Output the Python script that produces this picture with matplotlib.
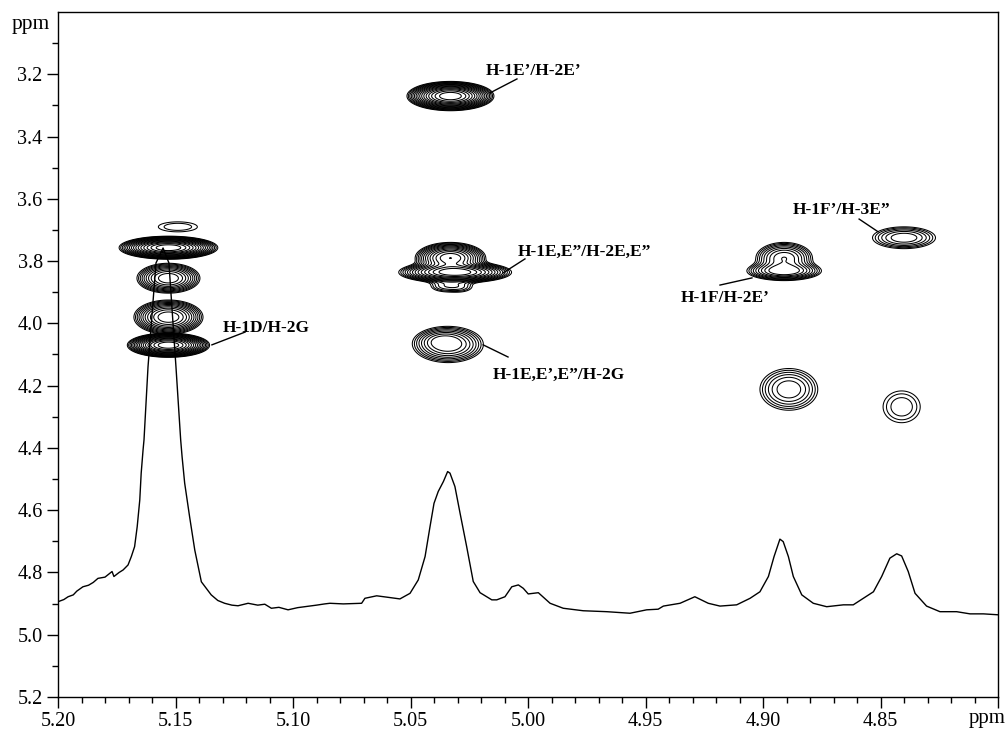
import matplotlib
matplotlib.use("Agg")
import matplotlib.pyplot as plt
from matplotlib.ticker import MultipleLocator, FixedLocator, FixedFormatter
import numpy as np

plt.rcParams['font.family'] = ['Liberation Serif', 'DejaVu Serif']

# 1D projection trace (ppm, ppm)
spec_x = [5.2000, 5.1975, 5.1957, 5.1935, 5.1920, 5.1894, 5.1870, 5.1850, 5.1830, 5.1800,
          5.1780, 5.1770, 5.1762, 5.1740, 5.1723, 5.1702, 5.1688, 5.1674, 5.1663, 5.1652,
          5.1646, 5.1638, 5.1634, 5.1617, 5.1583, 5.1553, 5.1528, 5.1498, 5.1478, 5.1472,
          5.1461, 5.1440, 5.1418, 5.1390, 5.1348, 5.1320, 5.1291, 5.1260, 5.1234, 5.1191,
          5.1150, 5.1120, 5.1092, 5.1060, 5.1021, 5.0980, 5.0950, 5.0900, 5.0865, 5.0843,
          5.0786, 5.0708, 5.0694, 5.0644, 5.0594, 5.0545, 5.0502, 5.0467, 5.0438, 5.0417,
          5.0400, 5.0382, 5.0360, 5.0342, 5.0332, 5.0311, 5.0289, 5.0261, 5.0233, 5.0204,
          5.0154, 5.0133, 5.0098, 5.0069, 5.0041, 5.0020, 4.9999, 4.9956, 4.9906, 4.9850,
          4.9765, 4.9665, 4.9566, 4.9495, 4.9446, 4.9424, 4.9353, 4.9290, 4.9233, 4.9183,
          4.9112, 4.9055, 4.9013, 4.8977, 4.8953, 4.8928, 4.8914, 4.8892, 4.8871, 4.8835,
          4.8786, 4.8729, 4.8658, 4.8616, 4.8573, 4.8530, 4.8495, 4.8460, 4.8431, 4.8410,
          4.8382, 4.8353, 4.8304, 4.8247, 4.8176, 4.8119, 4.8062, 4.7999]
spec_y = [4.894, 4.887, 4.878, 4.872, 4.860, 4.846, 4.841, 4.832, 4.819, 4.815,
          4.803, 4.797, 4.813, 4.800, 4.792, 4.776, 4.749, 4.717, 4.653, 4.567,
          4.481, 4.406, 4.374, 4.140, 3.806, 3.758, 3.806, 4.140, 4.374, 4.428,
          4.513, 4.621, 4.728, 4.830, 4.872, 4.890, 4.899, 4.905, 4.907, 4.899,
          4.905, 4.902, 4.915, 4.912, 4.920, 4.913, 4.910, 4.905, 4.901, 4.899,
          4.901, 4.899, 4.883, 4.875, 4.880, 4.885, 4.867, 4.824, 4.749, 4.653,
          4.578, 4.540, 4.508, 4.476, 4.481, 4.524, 4.610, 4.717, 4.829, 4.865,
          4.888, 4.888, 4.878, 4.846, 4.840, 4.851, 4.869, 4.865, 4.899, 4.915,
          4.923, 4.926, 4.931, 4.920, 4.918, 4.908, 4.899, 4.878, 4.899, 4.908,
          4.904, 4.883, 4.862, 4.813, 4.749, 4.693, 4.701, 4.749, 4.813, 4.872,
          4.899, 4.910, 4.904, 4.904, 4.883, 4.862, 4.813, 4.754, 4.740, 4.747,
          4.797, 4.867, 4.908, 4.926, 4.926, 4.933, 4.933, 4.936]

# cross peaks: group, F2 shift, F1 shift, half width, half height, number of contour levels
peak_group = [0, 1, 2, 3, 4, 5, 6, 6, 6, 6, 7, 7, 8, 8, 9, 10, 11]
peak_x = [5.149, 5.153, 5.153, 5.153, 5.153, 5.033, 5.031, 5.033, 5.036, 5.029,
          5.034, 5.037, 4.891, 4.891, 4.840, 4.889, 4.841]
peak_y = [3.690, 3.757, 3.855, 3.980, 4.070, 3.270, 3.836, 3.790, 3.880, 3.882,
          4.068, 4.055, 3.832, 3.790, 3.725, 4.212, 4.268]
peak_hx = [0.0083, 0.021, 0.0134, 0.0147, 0.0175, 0.0185, 0.024, 0.015, 0.005, 0.005,
           0.015, 0.006, 0.0157, 0.012, 0.0134, 0.0123, 0.0079]
peak_hy = [0.016, 0.037, 0.048, 0.055, 0.039, 0.047, 0.035, 0.050, 0.016, 0.016,
           0.058, 0.020, 0.030, 0.050, 0.035, 0.067, 0.051]
peak_n = [2, 16, 10, 11, 16, 16, 14, 12, 3, 3, 8, 3, 9, 8, 6, 6, 3]

labels = ['H-1E\u2019/H-2E\u2019', 'H-1E,E\u201d/H-2E,E\u201d', 'H-1E,E\u2019,E\u201d/H-2G',
          'H-1D/H-2G', 'H-1F\u2019/H-3E\u201d', 'H-1F/H-2E\u2019']
label_xy = [(5.0179, 3.189), (5.0043, 3.771), (5.0149, 4.166),
            (5.1298, 4.015), (4.8872, 3.636), (4.9349, 3.918)]
leader_from = [(5.0047, 3.215), (5.0013, 3.793), (5.0191, 4.069),
               (5.1204, 4.028), (4.8591, 3.665), (4.9183, 3.877)]
leader_to = [(5.0162, 3.260), (5.0106, 3.838), (5.0085, 4.108),
             (5.1345, 4.069), (4.8510, 3.706), (4.9047, 3.854)]

xticks = [5.20, 5.15, 5.10, 5.05, 5.00, 4.95, 4.90, 4.85, 4.80]
xticklabels = ['5.20', '5.15', '5.10', '5.05', '5.00', '4.95', '4.90', '4.85', '']
yticks = [3.2, 3.4, 3.6, 3.8, 4.0, 4.2, 4.4, 4.6, 4.8, 5.0, 5.2]

fig = plt.figure(figsize=(10.07, 7.32), dpi=100)
ax = fig.add_axes([58 / 1007, 35 / 732, 940 / 1007, 685 / 732])

f = 1.3
gx = np.linspace(4.80, 5.20, 1400)
gy = np.linspace(3.0, 5.2, 1100)
X, Y = np.meshgrid(gx, gy)
for g in sorted(set(peak_group)):
    Z = np.zeros_like(X)
    nmax = 0
    for i in range(len(peak_group)):
        if peak_group[i] != g:
            continue
        A = f ** peak_n[i]
        s = np.sqrt(2 * np.log(A))
        sx = peak_hx[i] / s
        sy = peak_hy[i] / s
        Z += A * np.exp(-0.5 * ((X - peak_x[i]) / sx) ** 2 - 0.5 * ((Y - peak_y[i]) / sy) ** 2)
        nmax = max(nmax, peak_n[i])
    levels = f ** np.arange(0, nmax)
    ax.contour(X, Y, Z, levels=levels, colors='black', linewidths=0.75)

ax.plot(spec_x, spec_y, color='black', lw=1.0)

for i in range(len(labels)):
    ax.text(label_xy[i][0], label_xy[i][1], labels[i], fontsize=12.5, fontweight='bold',
            ha='left', va='center')
    ax.plot([leader_from[i][0], leader_to[i][0]], [leader_from[i][1], leader_to[i][1]],
            color='black', lw=1.0)

ax.set_xlim(5.20, 4.80)
ax.set_ylim(5.2, 3.0)
ax.xaxis.set_major_locator(FixedLocator(xticks))
ax.xaxis.set_major_formatter(FixedFormatter(xticklabels))
ax.xaxis.set_minor_locator(MultipleLocator(0.01))
ax.yaxis.set_major_locator(FixedLocator(yticks))
ax.yaxis.set_major_formatter(FixedFormatter(['%.1f' % v for v in yticks]))
ax.yaxis.set_minor_locator(FixedLocator([3.1, 3.3, 3.5, 3.7, 3.9, 4.1, 4.3, 4.5, 4.7, 4.9, 5.1]))
ax.tick_params(which='major', direction='out', length=8, width=1.0, labelsize=14.5, pad=3)
ax.tick_params(which='minor', direction='out', length=4, width=1.0)
for sp in ax.spines.values():
    sp.set_linewidth(1.0)

fig.text(50 / 1007, 1 - 25 / 732, 'ppm', fontsize=15.5, ha='right', va='center')
fig.text(987 / 1007, 1 - 718 / 732, 'ppm', fontsize=15, ha='center', va='center')

fig.savefig('out.png', dpi=100)
